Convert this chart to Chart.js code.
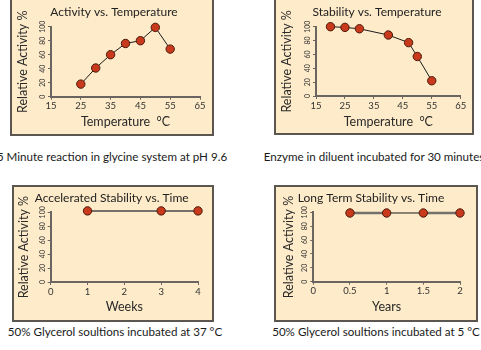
<!DOCTYPE html>
<html><head><meta charset="utf-8">
<script src="https://cdn.jsdelivr.net/npm/chart.js@4.4.1/dist/chart.umd.min.js"></script>
<style>
html,body{margin:0;padding:0;background:#fff;width:481px;height:350px;overflow:hidden;position:relative;font-family:Lato,sans-serif;}
.box{position:absolute;background:#fdebc9;border:2px solid #5b5650;box-sizing:border-box;}
canvas{position:absolute;}
.cap{position:absolute;width:300px;text-align:center;font-size:11.6px;color:#1a1a1a;line-height:14px;white-space:nowrap;}
</style></head><body>
<div class="box" style="left:10px;top:-2px;width:204px;height:138px"></div>
<div class="box" style="left:274px;top:-2px;width:200px;height:137px"></div>
<div class="box" style="left:12px;top:185px;width:202px;height:137px"></div>
<div class="box" style="left:274px;top:185px;width:204px;height:137px"></div>
<canvas id="c1"></canvas><canvas id="c2"></canvas><canvas id="c3"></canvas><canvas id="c4"></canvas>
<div class="cap" id="cap1" style="left:-38px;top:150px"></div>
<div class="cap" id="cap2" style="left:224px;top:150px"></div>
<div class="cap" id="cap3" style="left:-35px;top:325px"></div>
<div class="cap" id="cap4" style="left:226px;top:325px"></div>
<script>
// ---- data ----
const activityTemps = [25, 30, 35, 40, 45, 50, 55];
const activityValues = [18, 41, 60, 76, 80, 99, 68];
const stabilityTemps = [20, 25, 30, 40, 47, 50, 55];
const stabilityValues = [100, 99, 97, 88, 77, 57, 22];
const acceleratedWeeks = [1, 3, 4];
const acceleratedValues = [102, 102, 102];
const longTermYears = [0.5, 1, 1.5, 2];
const longTermValues = [99, 99, 99, 99];
const temperatureTicks = [15, 25, 35, 45, 55, 65];
const weekTicks = [0, 1, 2, 3, 4];
const yearTicks = [0, 0.5, 1, 1.5, 2];
const activityTicks = [0, 20, 40, 60, 80, 100];
const chartTitles = ["Activity vs. Temperature", "Stability vs. Temperature", "Accelerated Stability vs. Time", "Long Term Stability vs. Time"];
const xTitles = ["Temperature  \u00B0C", "Temperature  \u00B0C", "Weeks", "Years"];
const yTitle = "Relative Activity %";
const captions = ["5 Minute reaction in glycine system at pH 9.6", "Enzyme in diluent incubated for 30 minutes", "50% Glycerol soultions incubated at 37 \u00B0C", "50% Glycerol soultions incubated at 5 \u00B0C"];

captions.forEach((t, i) => document.getElementById('cap' + (i + 1)).textContent = t);

// ---- layout (page pixel targets) ----
const layouts = [
  {canvas:{l:10,t:-2,w:204,h:138}, area:{l:51,r:200,t:26.7,b:96.7}, titleX:114, titleY:12, yTitleX:23, xTitleY:122},
  {canvas:{l:274,t:-2,w:200,h:137}, area:{l:316,r:460.7,t:26.7,b:96}, titleX:377, titleY:12, yTitleX:286.7, xTitleY:122},
  {canvas:{l:12,t:185,w:202,h:137}, area:{l:50.7,r:198,t:212.3,b:282}, titleX:111.7, titleY:197.7, yTitleX:24, xTitleY:307},
  {canvas:{l:274,t:185,w:204,h:137}, area:{l:313.3,r:460,t:212.3,b:281.7}, titleX:371, titleY:197.7, yTitleX:289.3, xTitleY:307}
];

const FONT = 'Lato, sans-serif';
const TITLE_SIZE = 12, AXIS_SIZE = 12.5, XTICK_SIZE = 9.5, YTICK_SIZE = 7;

function makeChart(idx, xs, ys, xTicks, xMin, xMax, lineStyle) {
  const g = layouts[idx];
  const cv = document.getElementById('c' + (idx + 1));
  cv.width = g.canvas.w; cv.height = g.canvas.h;
  cv.style.left = g.canvas.l + 'px'; cv.style.top = g.canvas.t + 'px';
  cv.style.width = g.canvas.w + 'px'; cv.style.height = g.canvas.h + 'px';
  const cl = g.canvas.l, ct = g.canvas.t, W = g.canvas.w, H = g.canvas.h;
  const aL = g.area.l - cl, aR = g.area.r - cl, aT = g.area.t - ct, aB = g.area.b - ct;
  const padL = 2 * (g.titleX - cl) - aR;
  const padR = W - aR;
  const tLH = TITLE_SIZE * 1.2;
  const tPadTop = g.titleY - ct - tLH / 2;
  const tPadBot = aT - tLH - tPadTop;
  const yWidth = aL - padL;
  const aLH = AXIS_SIZE * 1.2;
  const yTitlePad = (g.yTitleX - cl) - padL - aLH / 2;
  const xHeight = H - aB;
  const xTitlePadBot = H - aLH / 2 - (g.xTitleY - ct);

  return new Chart(cv, {
    type: 'line',
    data: {
      datasets: [{
        data: xs.map((x, i) => ({x: x, y: ys[i]})),
        borderColor: '#1a1a1a',
        borderWidth: 1,
        pointRadius: 4.2,
        pointBackgroundColor: '#c9391b',
        pointBorderColor: '#4a1a0c',
        pointBorderWidth: 1,
        clip: false,
        segment: lineStyle ? {
          borderColor: c => lineStyle.colors[c.p0DataIndex],
          borderWidth: c => lineStyle.widths[c.p0DataIndex]
        } : undefined
      }]
    },
    options: {
      responsive: false,
      animation: false,
      devicePixelRatio: 1,
      layout: {padding: {left: padL, right: padR, top: 0, bottom: 0}},
      plugins: {
        legend: {display: false},
        tooltip: {enabled: false},
        title: {
          display: true, text: chartTitles[idx], color: '#222',
          font: {family: FONT, size: TITLE_SIZE, weight: 'normal', lineHeight: 1.2},
          padding: {top: tPadTop, bottom: tPadBot}
        }
      },
      scales: {
        x: {
          type: 'linear', min: xMin, max: xMax,
          afterBuildTicks: s => { s.ticks = xTicks.map(v => ({value: v})); },
          afterFit: s => { s.height = xHeight; },
          border: {display: true, color: '#6a6560', width: 2},
          grid: {drawOnChartArea: false, drawTicks: true, tickLength: 3, color: '#6a6560', lineWidth: 1},
          ticks: {color: '#333', padding: 1, maxRotation: 0, autoSkip: false,
            font: {family: FONT, size: XTICK_SIZE}, callback: v => String(v)},
          title: {display: true, text: xTitles[idx], color: '#2a2a2a',
            font: {family: FONT, size: AXIS_SIZE, lineHeight: 1.2}, padding: {top: 0, bottom: xTitlePadBot}}
        },
        y: {
          type: 'linear', min: 0, max: 100,
          afterBuildTicks: s => { s.ticks = activityTicks.map(v => ({value: v})); },
          afterFit: s => { s.width = yWidth; },
          border: {display: true, color: '#6a6560', width: 2},
          grid: {drawOnChartArea: false, drawTicks: true, tickLength: 3, color: '#6a6560', lineWidth: 1},
          ticks: {color: '#333', padding: -1, minRotation: 90, maxRotation: 90, crossAlign: 'center',
            autoSkip: false, font: {family: FONT, size: YTICK_SIZE}, callback: v => String(v)},
          title: {display: true, text: yTitle, color: '#2a2a2a',
            font: {family: FONT, size: AXIS_SIZE, lineHeight: 1.2}, padding: {top: yTitlePad, bottom: 0}}
        }
      }
    }
  });
}

makeChart(0, activityTemps, activityValues, temperatureTicks, 15, 65, null);
makeChart(1, stabilityTemps, stabilityValues, temperatureTicks, 15, 65, null);
makeChart(2, acceleratedWeeks, acceleratedValues, weekTicks, 0, 4,
  {colors: ['#75706a', '#75706a'], widths: [2, 2]});
makeChart(3, longTermYears, longTermValues, yearTicks, 0, 2,
  {colors: ['#75706a', '#1a1a1a', '#75706a'], widths: [2.5, 1, 2.5]});
</script>
</body></html>
